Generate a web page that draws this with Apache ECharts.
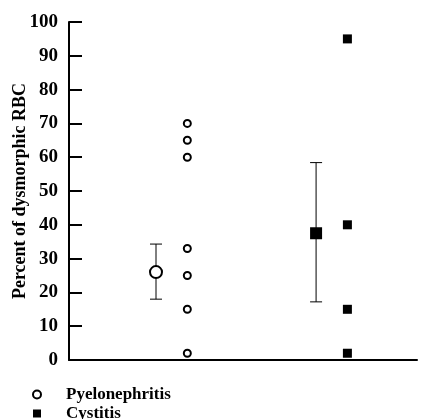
<!DOCTYPE html>
<html><head><meta charset="utf-8">
<script src="https://cdn.jsdelivr.net/npm/echarts@6/dist/echarts.min.js"></script>
<style>html,body{margin:0;padding:0;background:#fff}#c{width:421px;height:419px}</style>
</head><body><div id="c"></div>
<script>
const yTicks = [0,10,20,30,40,50,60,70,80,90,100];
const groupNames = ['Pyelonephritis','Cystitis'];
const pyeloX = 3.4, cystX = 8.0;
const pyeloValues = [70,65,60,33,25,15,2];
const cystValues = [95,40,15,2];
const meanX = [2.5, 7.1];
const meanValues = [26, 37.5];
const errLow = [18, 17.2];
const errHigh = [34.3, 58.4];

const chart = echarts.init(document.getElementById('c'));
const font = 'Liberation Serif';
chart.setOption({
  animation:false,
  grid:{left:69,right:4,top:22,bottom:59,containLabel:false,outerBoundsMode:'none'},
  xAxis:{type:'value',min:0,max:10,axisLine:{lineStyle:{color:'#000',width:2}},axisTick:{show:false},axisLabel:{show:false},splitLine:{show:false}},
  yAxis:{type:'value',min:0,max:100,interval:10,
    name:'Percent of dysmorphic RBC',nameLocation:'middle',nameGap:40,nameMoveOverlap:false,
    nameTextStyle:{fontFamily:font,fontWeight:'bold',fontSize:18,color:'#000'},
    axisLine:{show:true,lineStyle:{color:'#000',width:2}},
    axisTick:{show:true,inside:true,length:13,lineStyle:{color:'#000',width:2}},
    axisLabel:{fontFamily:font,fontWeight:'bold',fontSize:19,color:'#000',margin:11,formatter:v=>yTicks.includes(v)?String(v):''},
    splitLine:{show:false}},
  legend:{orient:'vertical',left:32,top:386,padding:0,itemGap:2,itemWidth:8,itemHeight:8,height:60,
    textStyle:{fontFamily:font,fontWeight:'bold',fontSize:17,color:'#000',padding:[0,0,0,20]},
    data:[{name:groupNames[0],icon:'circle',itemStyle:{color:'#fff',borderColor:'#000',borderWidth:2}},
          {name:groupNames[1],icon:'rect',itemStyle:{color:'#000'}}]},
  series:[
    {name:groupNames[0],type:'scatter',symbol:'circle',symbolSize:7,
     itemStyle:{color:'#fff',borderColor:'#000',borderWidth:2,opacity:1},
     data:pyeloValues.map(v=>[pyeloX,v])},
    {name:groupNames[1],type:'scatter',symbol:'rect',symbolSize:9,
     itemStyle:{color:'#000',opacity:1},
     data:cystValues.map(v=>[cystX,v])},
    {type:'custom',z:1,
     renderItem:(params,api)=>{
       const x=api.value(0), lo=api.value(1), hi=api.value(2);
       const p1=api.coord([x,lo]), p2=api.coord([x,hi]);
       const st={stroke:'#000',lineWidth:1};
       return {type:'group',children:[
         {type:'line',shape:{x1:p1[0],y1:p1[1],x2:p2[0],y2:p2[1]},style:st},
         {type:'line',shape:{x1:p1[0]-6,y1:p1[1],x2:p1[0]+6,y2:p1[1]},style:st},
         {type:'line',shape:{x1:p2[0]-6,y1:p2[1],x2:p2[0]+6,y2:p2[1]},style:st}]};
     },
     data:meanX.map((x,i)=>[x,errLow[i],errHigh[i]])},
    {type:'scatter',z:3,symbol:'circle',symbolSize:12,
     itemStyle:{color:'#fff',borderColor:'#000',borderWidth:2,opacity:1},
     data:[[meanX[0],meanValues[0]]]},
    {type:'scatter',z:3,symbol:'rect',symbolSize:12,
     itemStyle:{color:'#000',opacity:1},
     data:[[meanX[1],meanValues[1]]]}
  ]
});
</script></body></html>
